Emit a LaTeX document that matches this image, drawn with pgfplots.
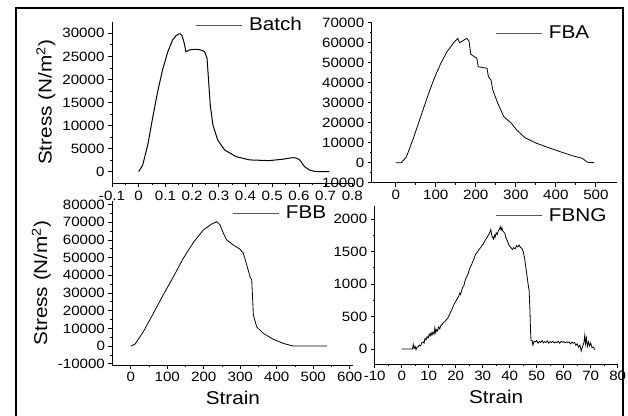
\documentclass[border=0pt]{standalone}
\usepackage{fontspec}
\setmainfont{Liberation Sans}[FakeStretch=1.12]
\usepackage{pgfplots}
\usepackage{pgfplotstable}
\pgfplotsset{compat=1.18}

\pgfplotstableread{
x y
0.000 0
0.015 1450
0.034 5800
0.052 11600
0.071 17350
0.089 22000
0.109 26000
0.127 28550
0.140 29500
0.150 29850
0.156 29900
0.162 29500
0.170 28000
0.177 26000
0.190 26400
0.205 26500
0.222 26500
0.238 26300
0.247 26000
0.256 24600
0.262 19500
0.268 14450
0.278 10100
0.296 6850
0.322 4700
0.365 3250
0.415 2550
0.490 2400
0.540 2700
0.577 3050
0.590 2950
0.603 2550
0.621 1100
0.640 350
0.660 50
0.690 0
0.714 0
}\batch

\pgfplotstableread{
x y
0 0
14 0
27 3000
44 12200
61 22200
78 32200
94.5 41350
111.5 49200
128 55500
145 60000
155 62200
159.6 60000
166.5 60850
177.3 62200
183 60850
187.5 54200
202.7 52200
206 48000
228 47200
231.5 43000
238 41350
242.5 36350
255 29700
270 23000
289 19700
302 16350
323 12500
348 10000
382 7500
415.5 5200
441 3500
466 2200
479 200
496 0
}\fba

\pgfplotstableread{
x y
0 0
11.8 1100
34.6 8100
62 18500
89 28900
117 39200
144 49600
172 58700
199 65650
222 69000
235.6 70350
244.7 68500
253.8 63800
263 60000
281 57150
299.5 54700
308.5 52500
317.8 45850
326.8 39200
331.5 37350
334 26000
336 17500
345 10900
363 7200
390.6 3800
418 1500
445.5 0
537 0
}\fbb

\pgfplotstableread{
x y
0 0
1 0
2 0
3 0
4 0
4.3 70
4.6 10
5.0 40
5.3 -10
5.7 30
6.1 35
6.5 60
7.0 50
7.5 100
8.0 110
8.3 90
8.6 160
9.0 140
9.4 190
9.8 170
10.2 230
10.5 200
10.9 250
11.2 210
11.6 260
12.0 230
12.3 330
12.6 250
13.0 300
13.3 280
13.7 340
14.1 310
14.5 360
15.0 380
15.5 410
16.0 420
16.5 450
17.0 470
17.5 510
18.0 560
18.5 600
19.0 650
19.5 700
20.0 730
20.5 770
21.0 800
21.5 860
21.8 840
22.2 900
22.6 950
23.0 970
23.4 1040
23.8 1090
24.2 1120
24.6 1160
25.0 1210
25.4 1260
25.8 1290
26.2 1330
26.6 1370
27.0 1420
27.4 1460
27.8 1480
28.2 1500
28.6 1530
29.0 1550
29.4 1570
29.8 1600
30.2 1610
30.6 1650
31.0 1680
31.4 1700
31.8 1730
32.2 1760
32.6 1790
33.0 1840
33.3 1760
33.6 1720
34.0 1690
34.3 1750
34.6 1720
35.0 1790
35.4 1760
35.8 1820
36.2 1840
36.5 1880
36.8 1830
37.1 1870
37.4 1820
37.8 1800
38.2 1780
38.5 1720
39.0 1680
39.5 1620
40.0 1580
40.5 1560
41.0 1530
41.5 1560
42.0 1540
42.5 1590
43.0 1570
43.5 1600
44.0 1560
44.5 1550
45.0 1500
45.5 1400
46.0 1250
46.5 1100
46.8 1000
47.2 900
47.5 600
47.7 300
47.9 130
48.3 130
48.6 60
49.0 120
49.5 110
50.0 130
50.5 90
51.0 120
51.5 100
52.0 130
52.5 95
53.0 115
53.5 100
54.0 125
54.5 90
55.0 115
55.5 100
56.0 120
56.5 95
57.0 110
57.5 100
58.0 120
58.5 90
59.0 115
59.5 105
60.0 115
60.5 95
61.0 110
61.5 100
62.0 110
62.5 80
63.0 105
63.5 90
64.0 100
64.5 60
65.0 80
65.5 30
66.0 60
66.5 -30
67.0 40
67.5 100
67.8 210
68.1 80
68.4 170
68.8 40
69.2 110
69.6 50
70.0 90
70.5 20
71.0 30
71.5 -10
}\fbng

\pgfplotsset{
  panel/.style={
    scale only axis,
    axis lines=left,
    axis line style={-, line width=0.9pt},
    every outer x axis line/.append style={-},
    every outer y axis line/.append style={-},
    tick align=outside,
    major tick length=4pt,
    minor tick length=2.2pt,
    tick style={black, line width=0.8pt},
    minor tick num=1,
    scaled ticks=false,
    /pgf/number format/assume math mode=true,
    /pgf/number format/1000 sep={},
    tick label style={font=\fontsize{13.5}{13.5}\selectfont},
    label style={font=\fontsize{18.5}{20}\selectfont},
    xlabel style={yshift=-2pt},
    legend style={draw=none, fill=none, inner sep=0pt, anchor=west,
      font=\fontsize{18.5}{20}\selectfont},
    legend cell align=left,
    legend image code/.code={\draw[black!65, line width=0.8pt] (0pt,0pt) -- (46pt,0pt); \path (51pt,0pt);},
  },
}

\begin{document}
\begin{tikzpicture}
\useasboundingbox (0pt,0pt) rectangle (628pt,415pt);
\draw[line width=1.5pt] (16pt,-3pt) rectangle (623pt,407pt);

% Batch
\begin{axis}[panel, at={(112pt,231.8pt)}, anchor=south west,
  width=240.3pt, height=161.4pt,
  xmin=-0.1, xmax=0.8, ymin=-2500, ymax=32500,
  xtick={-0.1,0,0.1,0.2,0.3,0.4,0.5,0.6,0.7,0.8},
  ytick={0,5000,10000,15000,20000,25000,30000},
  xticklabel style={/pgf/number format/fixed, /pgf/number format/precision=1},
  ylabel={Stress (N/m\textsuperscript{2})},
  legend style={at={(0.345,0.98)}}]
\addplot[black, line width=1pt] table[x=x,y=y]{\batch};
\addlegendentry{Batch}
\end{axis}

% FBA
\begin{axis}[panel, at={(371.7pt,232.3pt)}, anchor=south west,
  width=245pt, height=160pt,
  xmin=-60, xmax=552, ymin=-10000, ymax=70000,
  xtick={0,100,200,300,400,500},
  ytick={-10000,0,10000,20000,30000,40000,50000,60000,70000},
  legend style={at={(0.503,0.936)}}]
\addplot[black, line width=0.8pt] table[x=x,y=y]{\fba};
\addlegendentry{FBA}
\end{axis}

% FBB
\begin{axis}[panel, at={(112.45pt,50pt)}, anchor=south west,
  width=241pt, height=164pt,
  xmin=-50, xmax=610, ymin=-10700, ymax=82000,
  xtick={0,100,200,300,400,500,600},
  ytick={-10000,0,10000,20000,30000,40000,50000,60000,70000,80000},
  xlabel={Strain},
  ylabel={Stress (N/m\textsuperscript{2})},
  legend style={at={(0.496,0.925)}}]
\addplot[black, line width=0.8pt] table[x=x,y=y]{\fbb};
\addlegendentry{FBB}
\end{axis}

% FBNG
\begin{axis}[panel, at={(374.7pt,51pt)}, anchor=south west,
  width=243pt, height=158pt,
  xmin=-10, xmax=80, ymin=-230, ymax=2200,
  xtick={-10,0,10,20,30,40,50,60,70,80},
  ytick={0,500,1000,1500,2000},
  xlabel={Strain},
  legend style={at={(0.495,0.939)}}]
\addplot[black, line width=0.8pt] table[x=x,y=y]{\fbng};
\addlegendentry{FBNG}
\end{axis}
\end{tikzpicture}
\end{document}
